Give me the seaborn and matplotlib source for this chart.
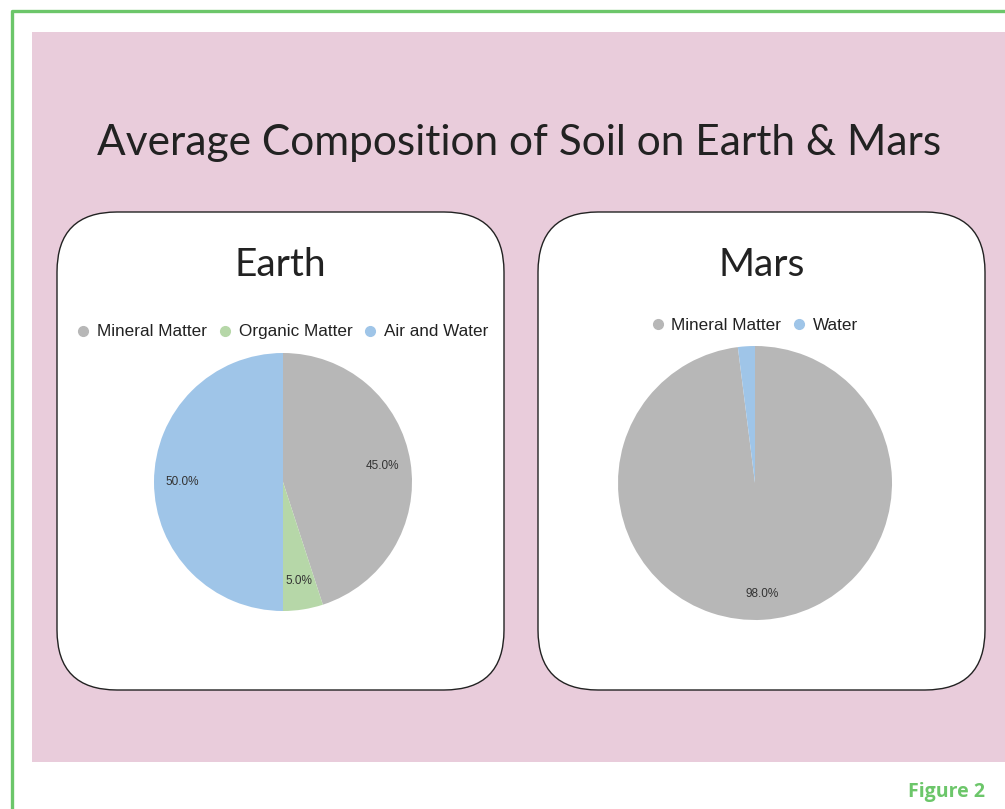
import seaborn as sns
import matplotlib.pyplot as plt
from matplotlib.patches import FancyBboxPatch, Rectangle
from matplotlib.lines import Line2D

# Data
earth_labels = ["Mineral Matter", "Organic Matter", "Air and Water"]
earth_values = [45.0, 5.0, 50.0]
mars_labels = ["Mineral Matter", "Water"]
mars_values = [98.0, 2.0]

title = "Average Composition of Soil on Earth & Mars"
panel_titles = ["Earth", "Mars"]

gray = "#b7b7b7"
green = "#b6d7a8"
blue = "#9fc5e8"
earth_colors = [gray, green, blue]
mars_colors = [gray, blue]

sns.set_theme(style="white")
plt.rcParams['font.family'] = ['Liberation Sans', 'DejaVu Sans']

W, H = 1005, 809
fig = plt.figure(figsize=(W / 100, H / 100), dpi=100)

# background axes in pixel coordinates
bg = fig.add_axes([0, 0, 1, 1])
bg.set_xlim(0, W)
bg.set_ylim(H, 0)
bg.axis("off")

# green frame
bg.plot([12, 12, W], [H, 11, 11], color="#6cc66a", lw=2.4, solid_capstyle="butt")
# pink panel
bg.add_patch(Rectangle((32, 32), W - 32, 730, facecolor="#e9ccdb", edgecolor="none"))

# rounded white cards
for x0 in [57, 538]:
    bg.add_patch(FancyBboxPatch((x0 + 60, 212 + 60), 447 - 120, 478 - 120,
                                boxstyle="round,pad=60", facecolor="white",
                                edgecolor="#222222", lw=1.0))

bg.text(519, 143, title, ha="center", va="center", fontsize=30.5,
        family="Lato", color="#222222")
bg.text(280, 265, panel_titles[0], ha="center", va="center", fontsize=28,
        family="Lato", color="#222222")
bg.text(762, 265, panel_titles[1], ha="center", va="center", fontsize=28,
        family="Lato", color="#222222")
bg.text(985, 792, "Figure 2", ha="right", va="center", fontsize=14,
        family="Open Sans", weight="bold", color="#6cc66a")


def pie_axes(cx, cy, r):
    ax = fig.add_axes([(cx - r) / W, (H - cy - r) / H, 2 * r / W, 2 * r / H])
    ax.axis("off")
    return ax


def legend_row(labels, colors, cx, cy):
    handles = [Line2D([], [], marker="o", ls="", color=c, markersize=7) for c in colors]
    fig.legend(handles, labels, loc="center", bbox_to_anchor=(cx / W, 1 - cy / H),
               ncol=len(labels), frameon=False, fontsize=12.3, handlelength=0.7,
               handletextpad=0.45, columnspacing=0.7, labelcolor="#222222")


pie_text = dict(fontsize=8.5, color="#333333", weight="medium")

# Earth
ax1 = pie_axes(283, 482, 129)
ax1.pie(earth_values, colors=earth_colors, startangle=90, counterclock=False,
        autopct="%.1f%%", pctdistance=0.78, textprops=pie_text,
        wedgeprops=dict(linewidth=0))
ax1.set_xlim(-1, 1)
ax1.set_ylim(-1, 1)
legend_row(earth_labels, earth_colors, 283, 332)

# Mars
ax2 = pie_axes(755, 483, 137)
ax2.pie(mars_values, colors=mars_colors, startangle=90, counterclock=False,
        autopct=lambda p: f"{p:.1f}%" if p > 5 else "", pctdistance=0.81,
        textprops=pie_text, wedgeprops=dict(linewidth=0))
ax2.set_xlim(-1, 1)
ax2.set_ylim(-1, 1)
legend_row(mars_labels, mars_colors, 755, 325)

plt.savefig("out.png", dpi=100)
